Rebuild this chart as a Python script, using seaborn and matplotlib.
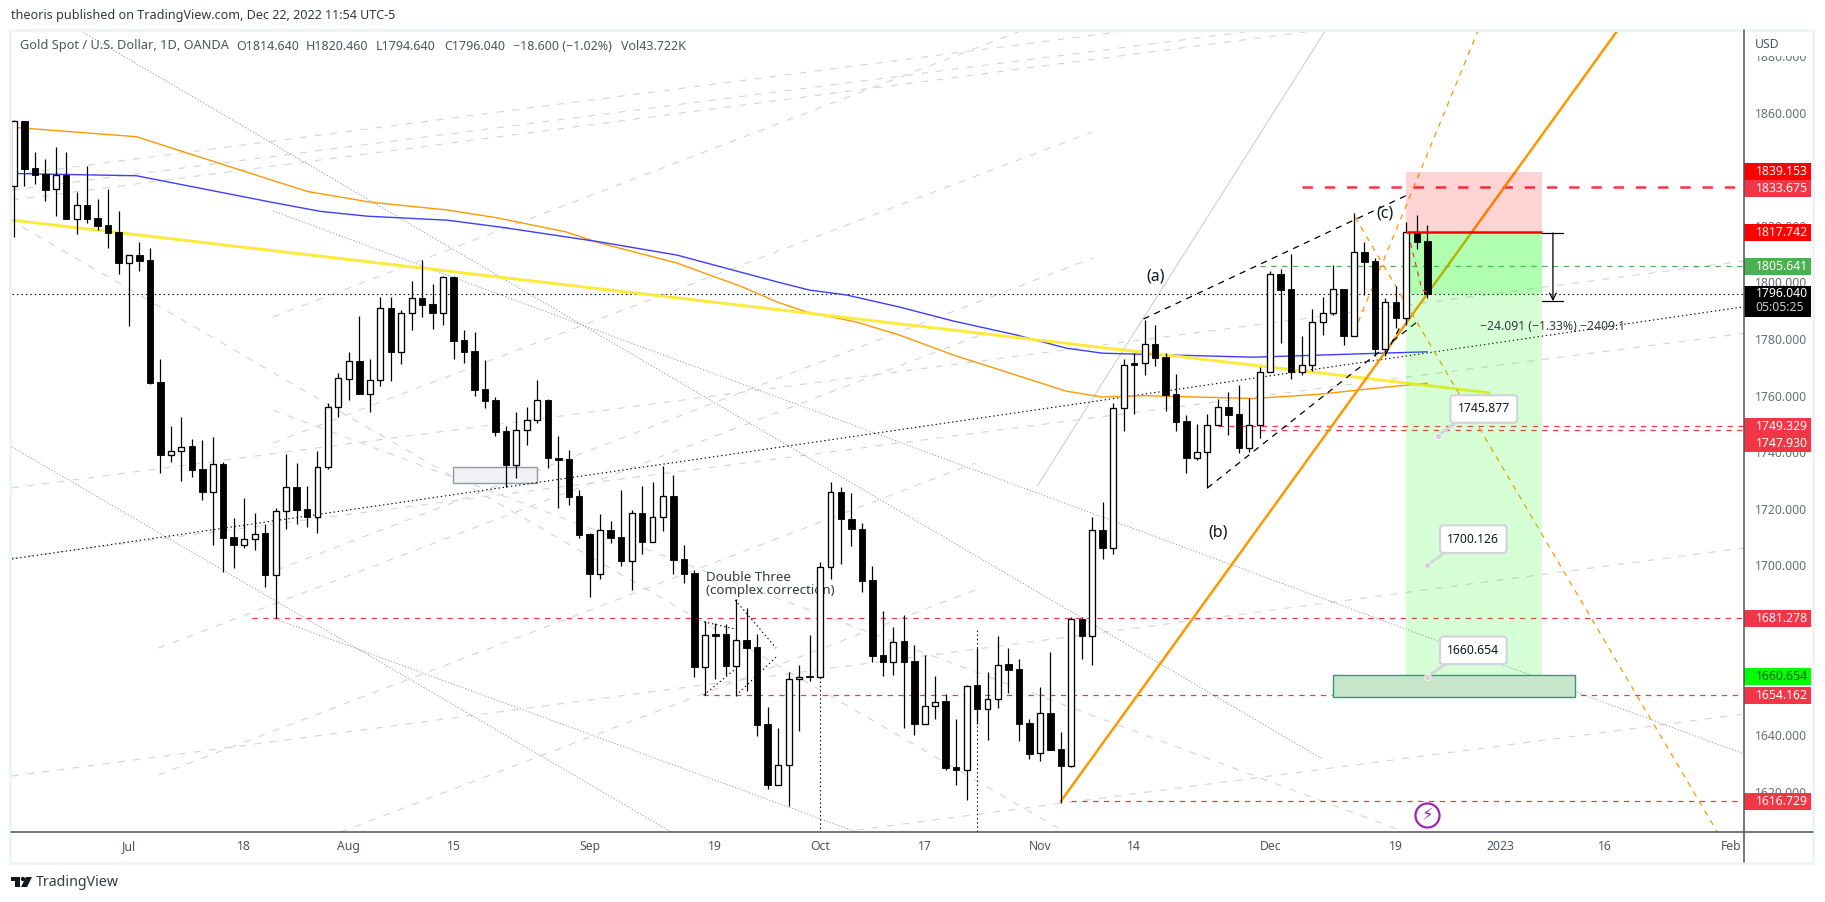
#!/usr/bin/env python3

import matplotlib
matplotlib.use('Agg')
import matplotlib.pyplot as plt
from matplotlib.patches import Rectangle, Circle, Polygon
from matplotlib.transforms import blended_transform_factory
import numpy as np
import pandas as pd
import seaborn as sns

# daily candles
opens = [1834.1, 1857.0, 1840.3, 1838.3, 1832.9, 1837.8, 1822.5, 1827.2, 1822.7, 1820.3,
         1817.7, 1807.0, 1809.6, 1807.9, 1764.7, 1739.2, 1740.3, 1742.2, 1734.1, 1726.1,
         1735.9, 1710.0, 1707.4, 1709.2, 1711.4, 1696.8, 1719.1, 1727.6, 1719.8, 1717.2,
         1734.7, 1755.9, 1766.0, 1772.1, 1760.7, 1765.4, 1790.8, 1775.5, 1789.1, 1794.4,
         1792.4, 1789.3, 1802.0, 1779.7, 1775.8, 1762.3, 1758.5, 1747.5, 1735.6, 1747.7,
         1751.3, 1758.5, 1737.9, 1737.6, 1724.6, 1711.1, 1697.1, 1712.5, 1710.0, 1701.7,
         1718.4, 1708.4, 1717.0, 1724.4, 1702.2, 1697.2, 1664.3, 1675.8, 1675.8, 1664.6,
         1673.6, 1671.1, 1643.9, 1622.5, 1629.4, 1659.8, 1660.9, 1660.7, 1699.6, 1726.1,
         1716.3, 1712.9, 1694.9, 1668.3, 1666.0, 1673.2, 1666.1, 1644.1, 1650.5, 1652.0,
         1628.7, 1627.8, 1657.6, 1649.4, 1652.7, 1665.2, 1663.3, 1644.2, 1633.6, 1647.8,
         1635.0, 1629.3, 1681.0, 1675.2, 1712.4, 1706.3, 1755.5, 1771.5, 1771.4, 1778.1,
         1773.5, 1760.5, 1751.0, 1738.1, 1740.0, 1749.5, 1755.9, 1753.4, 1741.6, 1749.5,
         1768.2, 1802.9, 1797.6, 1768.5, 1771.0, 1785.9, 1789.1, 1797.6, 1781.2, 1810.6,
         1807.6, 1776.5, 1793.0, 1787.6, 1817.7, 1814.64]
highs = [1857.5, 1857.2, 1846.0, 1843.5, 1847.9, 1846.0, 1831.8, 1841.1, 1829.4, 1833.0,
         1825.2, 1809.8, 1814.2, 1812.2, 1772.8, 1749.3, 1752.5, 1744.6, 1744.4, 1745.4,
         1736.5, 1716.7, 1723.7, 1718.4, 1714.7, 1720.2, 1739.3, 1736.1, 1728.1, 1740.5,
         1757.3, 1767.9, 1775.4, 1788.1, 1772.8, 1794.7, 1794.7, 1790.3, 1800.5, 1807.9,
         1799.3, 1802.3, 1802.3, 1783.2, 1782.5, 1772.6, 1759.4, 1749.3, 1754.2, 1755.9,
         1765.5, 1758.8, 1745.8, 1740.8, 1726.7, 1711.4, 1718.2, 1715.7, 1726.6, 1719.5,
         1728.1, 1729.4, 1735.2, 1732.0, 1707.2, 1698.4, 1680.4, 1679.8, 1679.2, 1688.1,
         1684.9, 1675.7, 1649.9, 1642.5, 1662.5, 1664.7, 1675.3, 1701.4, 1729.4, 1727.6,
         1725.5, 1714.9, 1699.8, 1683.9, 1678.2, 1682.5, 1671.8, 1668.4, 1661.0, 1654.6,
         1645.8, 1657.6, 1670.7, 1662.5, 1675.1, 1670.7, 1666.8, 1645.6, 1657.0, 1669.4,
         1641.0, 1681.7, 1681.7, 1717.0, 1722.4, 1757.3, 1772.8, 1775.0, 1786.7, 1785.0,
         1775.0, 1767.5, 1753.2, 1750.0, 1753.4, 1758.7, 1761.2, 1763.8, 1759.0, 1770.2,
         1804.0, 1804.8, 1810.0, 1781.1, 1790.5, 1794.9, 1806.2, 1797.6, 1824.4, 1814.2,
         1808.5, 1794.4, 1798.7, 1821.5, 1823.8, 1820.46]
lows = [1815.9, 1834.2, 1834.8, 1828.8, 1823.5, 1822.3, 1817.2, 1821.1, 1818.5, 1812.3,
        1803.1, 1784.7, 1804.2, 1764.1, 1732.5, 1736.6, 1730.0, 1731.4, 1723.1, 1707.4,
        1697.8, 1699.2, 1706.3, 1705.5, 1692.4, 1681.3, 1713.0, 1714.7, 1713.7, 1711.6,
        1734.2, 1752.6, 1758.5, 1760.7, 1754.3, 1763.5, 1765.3, 1771.2, 1783.2, 1787.9,
        1783.5, 1785.0, 1773.1, 1771.6, 1759.9, 1755.6, 1745.9, 1727.6, 1731.0, 1742.6,
        1750.2, 1734.5, 1720.4, 1721.4, 1709.8, 1689.0, 1695.2, 1708.1, 1699.8, 1691.3,
        1704.1, 1708.4, 1712.3, 1697.0, 1693.9, 1660.7, 1654.2, 1659.9, 1661.3, 1653.9,
        1655.7, 1639.8, 1621.0, 1622.5, 1615.0, 1641.5, 1659.3, 1660.7, 1695.2, 1700.5,
        1706.9, 1690.8, 1666.0, 1661.1, 1661.3, 1642.7, 1640.1, 1644.1, 1645.6, 1627.7,
        1622.4, 1617.1, 1644.0, 1638.3, 1649.8, 1654.8, 1638.0, 1631.6, 1630.9, 1634.8,
        1616.0, 1628.9, 1667.0, 1664.8, 1702.4, 1704.1, 1747.5, 1753.5, 1767.3, 1770.5,
        1754.7, 1747.6, 1732.8, 1737.3, 1727.2, 1749.5, 1746.1, 1739.8, 1740.2, 1745.2,
        1768.2, 1778.7, 1765.9, 1767.4, 1768.8, 1781.4, 1788.5, 1777.9, 1781.2, 1795.6,
        1774.0, 1774.0, 1783.8, 1785.0, 1811.8, 1794.64]
closes = [1857.0, 1840.1, 1838.1, 1832.7, 1837.8, 1822.5, 1827.2, 1822.5, 1819.9, 1817.6,
          1807.0, 1809.6, 1807.7, 1764.6, 1739.2, 1740.3, 1742.0, 1733.9, 1726.1, 1735.8,
          1709.8, 1707.2, 1709.2, 1711.2, 1696.8, 1719.1, 1727.6, 1719.7, 1717.1, 1734.7,
          1755.9, 1766.1, 1772.1, 1760.7, 1765.4, 1790.8, 1775.5, 1789.1, 1794.4, 1792.1,
          1789.3, 1801.8, 1779.4, 1775.5, 1762.0, 1758.2, 1747.3, 1735.6, 1747.7, 1751.3,
          1758.3, 1737.8, 1737.3, 1724.3, 1710.8, 1697.0, 1712.4, 1709.8, 1701.7, 1718.4,
          1708.4, 1717.0, 1724.4, 1702.0, 1697.0, 1664.3, 1675.3, 1675.2, 1664.6, 1673.6,
          1670.9, 1643.6, 1622.4, 1629.4, 1659.8, 1660.7, 1660.6, 1699.6, 1726.1, 1716.3,
          1712.8, 1694.6, 1668.0, 1666.0, 1673.1, 1666.0, 1644.0, 1650.5, 1651.9, 1628.4,
          1627.8, 1657.5, 1649.4, 1652.7, 1665.0, 1663.1, 1644.0, 1633.4, 1647.8, 1634.8,
          1629.3, 1681.0, 1675.2, 1712.4, 1706.3, 1755.5, 1771.0, 1771.0, 1778.1, 1773.4,
          1760.2, 1750.8, 1738.1, 1740.0, 1749.5, 1755.9, 1753.3, 1741.6, 1749.5, 1768.2,
          1802.9, 1797.4, 1768.5, 1771.0, 1785.9, 1789.1, 1797.6, 1781.2, 1810.6, 1807.3,
          1776.5, 1793.0, 1787.6, 1817.7, 1814.4, 1796.04]

# moving averages
ma_orange_x = [0, 11.7, 25.1, 28.1, 34, 41.4, 45.9, 52.7, 56, 63.3, 69.6, 72.9, 75.7, 80.5,
               84.6, 89.7, 95.1, 100.5, 104, 108, 118.4, 124.7, 131, 135]
ma_orange_y = [1854.8, 1851.5, 1835.6, 1832.1, 1828.4, 1825.6, 1823.0, 1817.9, 1813.9, 1806.9,
               1798.4, 1793.1, 1789.6, 1786.0, 1781.4, 1774.4, 1768.0, 1761.6, 1759.5, 1760.0,
               1759.0, 1760.5, 1763.0, 1764.4]
ma_blue_x = [0, 11.7, 24.4, 29.3, 33.8, 41.4, 46.6, 56, 63.3, 72.9, 76, 79.5, 84.6, 89.7,
             95.8, 100.5, 104, 118.4, 127.9, 135]
ma_blue_y = [1838.5, 1837.7, 1828.5, 1825.1, 1823.4, 1822.0, 1819.5, 1814.3, 1809.7, 1800.2,
             1797.3, 1795.6, 1791.3, 1786.4, 1781.4, 1776.8, 1775.0, 1773.6, 1774.7, 1775.5]

# hand drawn lines as (bar, price, bar, price)
light_dashed = [(-0.18, 1838.0, 106.9, 1889.2), (-0.18, 1832.7, 118.4, 1888.9),
                (-0.18, 1829.1, 124.1, 1888.9), (24.75, 1787.8, 96.4, 1889.2),
                (24.75, 1743.3, 103, 1853.2), (13.8, 1670.8, 92.3, 1781.4),
                (25.1, 1698.4, 103.1, 1808.7), (13.8, 1626.0, 91.8, 1736.2),
                (31.2, 1605.8, 91.8, 1691.3), (-0.18, 1727.4, 165.25, 1807.6),
                (-0.18, 1625.6, 165.25, 1706.2), (-0.18, 1702.6, 165.25, 1782.0),
                (80.5, 1606.5, 165.25, 1647.5), (0.8, 1819.6, 100.4, 1605.8),
                (24.75, 1754.9, 132.9, 1605.8)]
grey_dotted = [(6.22, 1889.2, 125.0, 1631.6), (24.75, 1825.3, 165.25, 1633.4),
               (-0.18, 1741.9, 62.8, 1605.8), (24.75, 1681.4, 80.5, 1605.8)]
grey_solid = [(97.8, 1728.4, 125.3, 1889.2)]
black_dotted = [(-0.18, 1702.3, 165.25, 1791.4),
                (65.9, 1680.1, 68.8, 1677.6), (68.9, 1687.8, 72.8, 1670.8),
                (72.8, 1667.6, 69.0, 1654.2), (65.9, 1654.2, 68.8, 1663.1),
                (77, 1660.7, 77, 1605.8), (92, 1677.2, 92, 1605.8)]
black_dashed = [(107.9, 1787.1, 133.1, 1830.9), (114, 1727.4, 134, 1786.0),
                (131, 1774.4, 132.5, 1785.0)]
orange_dashed = [(128.4, 1786.0, 139.8, 1888.5), (128.1, 1823.1, 162.7, 1605.8)]
orange_thick = (100, 1616.7, 153.2, 1889.2)
yellow_line = (-0.18, 1822.0, 141, 1761.0)
red_zigzag_x = [133.4, 134.5, 135.2]
red_zigzag_y = [1813.9, 1797.3, 1796.3]

# horizontal levels: price, first bar, colour
level_prices = [1833.675, 1805.641, 1749.329, 1747.93, 1681.278, 1654.162, 1616.729]
level_starts = [123.0, 119.0, 115.0, 119.0, 22.7, 65.8, 101.0]
level_colors = ['#f23645', '#4caf50', '#f23645', '#f23645', '#f23645', '#f23645', '#f23645']

# right hand price tags; the two close ones get stacked by the platform
tag_prices = [1839.153, 1833.675, 1817.742, 1805.641, 1749.329, 1747.93, 1681.278,
              1660.654, 1654.162, 1616.729]
tag_centers = [1839.1, 1833.1, 1817.742, 1805.641, 1749.0, 1743.2, 1681.278,
               1660.654, 1654.162, 1616.729]
tag_colors = ['#ff0000', '#f23645', '#ff0000', '#4caf50', '#f23645', '#f23645', '#f23645',
              '#00ff00', '#f23645', '#f23645']
tag_text_colors = ['white', 'white', 'white', 'white', 'white', 'white', 'white',
                   '#1e5a1e', 'white', 'white']

y_ticks = [1620, 1640, 1660, 1680, 1700, 1720, 1740, 1760, 1780, 1800, 1820, 1840, 1860, 1880]
y_tick_hide = [1660, 1680, 1840]
x_ticks = [11, 22, 32, 42, 55, 67, 77, 87, 98, 107, 120, 132, 142, 152, 164]
x_labels = ['Jul', '18', 'Aug', '15', 'Sep', '19', 'Oct', '17', 'Nov', '14', 'Dec', '19',
            '2023', '16', 'Feb']

callout_prices = [1745.877, 1700.126, 1660.654]

FONT = 'Noto Sans'
GREY_LINE = '#d1d4dc'
TEXT_GREY = '#6a6d78'
AXIS_DARK = '#50535e'


def draw_segments(ax, segments, **kwargs):
    for x0, y0, x1, y1 in segments:
        ax.plot([x0, x1], [y0, y1], **kwargs)


def draw_candles(ax, df):
    ax.vlines(df['bar'], df['low'], df['high'], color='black', lw=0.9, zorder=6)
    up = df[df['close'] >= df['open']]
    down = df[df['close'] < df['open']]
    ax.bar(up['bar'], up['close'] - up['open'], bottom=up['open'], width=0.56,
           facecolor='white', edgecolor='black', linewidth=0.95, zorder=7)
    ax.bar(down['bar'], down['open'] - down['close'], bottom=down['close'], width=0.62,
           facecolor='black', edgecolor='black', linewidth=0.6, zorder=7)


def draw_position(ax):
    # risk/reward box, translucent so lines below show through
    ax.add_patch(Rectangle((133, 1817.742), 13, 1839.153 - 1817.742, facecolor='#ff0000',
                           alpha=0.17, edgecolor='none', zorder=4))
    ax.add_patch(Rectangle((133, 1660.654), 13, 1817.742 - 1660.654, facecolor='#00ff00',
                           alpha=0.16, edgecolor='none', zorder=4))
    ax.add_patch(Rectangle((133, 1796.04), 13, 1817.742 - 1796.04, facecolor='#00ff00',
                           alpha=0.17, edgecolor='none', zorder=4))
    ax.plot([133, 146], [1817.742, 1817.742], color='#ff0000', lw=1.8, zorder=8,
            solid_capstyle='butt')


def draw_price_tags(ax):
    trans = blended_transform_factory(ax.transAxes, ax.transData)
    for price, center, col, tcol in zip(tag_prices, tag_centers, tag_colors, tag_text_colors):
        ax.add_patch(Rectangle((1.0, center - 3.0), 0.0387, 6.0, transform=trans, facecolor=col,
                               edgecolor='none', clip_on=False, zorder=20))
        ax.text(1.0068, center, f'{price:.3f}', transform=trans, color=tcol, fontsize=8.8,
                va='center', ha='left', clip_on=False, zorder=21)
    ax.add_patch(Rectangle((1.0, 1787.9), 0.0387, 10.9, transform=trans, facecolor='black',
                           edgecolor='none', clip_on=False, zorder=20))
    ax.text(1.0068, 1796.04, '1796.040', transform=trans, color='white', fontsize=8.8,
            va='center', clip_on=False, zorder=21)
    ax.text(1.0068, 1791.1, '05:05:25', transform=trans, color='#c8c8c8', fontsize=8.8,
            va='center', clip_on=False, zorder=21)


def draw_callouts(ax):
    tips = [136, 135, 135]
    boxes = [(140.4, 1755.3), (139.4, 1709.3), (139.4, 1670.0)]
    for price, tip, (bx, by) in zip(callout_prices, tips, boxes):
        ax.annotate('', xy=(tip, price), xytext=(tip + 2.0, price + 5.2),
                    arrowprops=dict(arrowstyle='-', color=GREY_LINE, lw=2.2), zorder=14)
        ax.plot([tip], [price], 'o', ms=4.5, color=GREY_LINE, mec='white', mew=0.5, zorder=15)
        ax.text(bx, by, f'{price:.3f}', fontsize=8.8, color='#131722', ha='center', va='center',
                zorder=16, bbox=dict(boxstyle='round,pad=0.6,rounding_size=0.3',
                                     facecolor='white', edgecolor=GREY_LINE, lw=1.6))


def draw_frame(fig):
    over = fig.add_axes([0, 0, 1, 1], zorder=30)
    over.set_xlim(0, 1825)
    over.set_ylim(902, 0)
    over.axis('off')
    over.patch.set_alpha(0)
    over.add_patch(Rectangle((10, 30), 1803, 833, fill=False, edgecolor='#f0f3fa', lw=2.2))
    over.plot([11, 1813], [832, 832], color=AXIS_DARK, lw=1.1)
    over.plot([1744, 1744], [30, 862], color=AXIS_DARK, lw=1.1)
    # hides the upper half of the top tick label
    over.add_patch(Rectangle((1746, 32), 64, 24, facecolor='white', edgecolor='none'))
    over.text(1755, 44, 'USD', color=AXIS_DARK, fontsize=8.8, family=FONT, va='center')

    over.text(11, 16, 'theoris published on TradingView.com, Dec 22, 2022 11:54 UTC-5',
              color='#333640', fontsize=9.05, family=FONT, va='center')
    legend_y = 46
    over.text(20, legend_y, 'Gold Spot / U.S. Dollar, 1D, OANDA', color='#50535e', fontsize=9.2,
              family=FONT, va='center')
    parts = [(236, 'O1814.640'), (306, 'H1820.460'), (376, 'L1794.640'), (444, 'C1796.040'),
             (513, '\u221218.600 (\u22121.02%)'), (621, 'Vol43.722K')]
    for px, txt in parts:
        over.text(px, legend_y, txt, color='#50535e', fontsize=9, family=FONT, va='center')

    # logo
    over.add_patch(Rectangle((11, 877), 9, 4, facecolor='#131722', edgecolor='none'))
    over.add_patch(Rectangle((15, 877), 5, 10, facecolor='#131722', edgecolor='none'))
    over.add_patch(Circle((23, 879), 2.2, facecolor='#131722', edgecolor='none'))
    over.add_patch(Polygon([[26, 877], [32, 877], [27, 887], [21, 887]], facecolor='#131722',
                           edgecolor='none'))
    over.text(36, 883, 'TradingView', color='#363a45', fontsize=10.2, family=FONT, va='center')


def main():
    sns.set_theme(style='white')
    plt.rcParams['font.family'] = [FONT, 'DejaVu Sans']
    plt.rcParams['lines.scale_dashes'] = False

    candles = pd.DataFrame({'bar': np.arange(len(closes)), 'open': opens, 'high': highs,
                            'low': lows, 'close': closes})

    fig = plt.figure(figsize=(18.25, 9.02), dpi=100, facecolor='white')
    ax = fig.add_axes([12 / 1825, 1 - 832 / 902, (1744 - 12) / 1825, (832 - 30) / 902])
    ax.set_xlim(-0.177, 165.25)
    ax.set_ylim(1605.83, 1889.2)
    sns.despine(ax=ax, left=True, bottom=True, top=True, right=True)

    draw_segments(ax, light_dashed, color=GREY_LINE, lw=0.8, ls=(0, (5, 6)), zorder=2)
    draw_segments(ax, grey_solid, color=GREY_LINE, lw=0.9, zorder=2)
    draw_segments(ax, grey_dotted, color='#9a9da6', lw=0.7, ls=(0, (0.9, 1.3)), zorder=2)
    draw_segments(ax, black_dotted, color='black', lw=0.8, ls=(0, (1, 2)), zorder=3)
    ax.plot([-0.177, 165.25], [1796.04, 1796.04], color='black', lw=0.8, ls=(0, (1, 2.2)), zorder=3)

    for price, start, col in zip(level_prices, level_starts, level_colors):
        thick = price == 1833.675
        ax.plot([start, 165.25], [price, price], color=col, lw=1.8 if thick else 0.9,
                ls=(0, (7.5, 8.5)) if thick else (0, (3.8, 4)), zorder=3)

    sns.lineplot(x=ma_orange_x, y=ma_orange_y, ax=ax, color='#ff9800', lw=1.0, estimator=None,
                 errorbar=None, zorder=3)
    sns.lineplot(x=ma_blue_x, y=ma_blue_y, ax=ax, color='#3d3dff', lw=1.0, estimator=None,
                 errorbar=None, zorder=3)
    ax.plot(yellow_line[0::2], yellow_line[1::2], color='#fdea3a', lw=2.1, zorder=3,
            solid_capstyle='butt')
    ax.plot(orange_thick[0::2], orange_thick[1::2], color='#ff9800', lw=1.8, zorder=3)
    draw_segments(ax, orange_dashed, color='#ff9800', lw=0.9, ls=(0, (4, 4)), zorder=3)
    draw_segments(ax, black_dashed, color='black', lw=0.9, ls=(0, (4.5, 4)), zorder=3)
    ax.plot(red_zigzag_x, red_zigzag_y, color='#f23645', lw=0.9, ls=(0, (3.5, 3.5)), zorder=8)

    # support boxes
    ax.add_patch(Rectangle((41.9, 1729.1), 8.07, 5.7, facecolor='#f0f1f4', edgecolor='#9598a1',
                           lw=1.0, zorder=2))
    ax.add_patch(Rectangle((126, 1653.5), 23.1, 7.8, facecolor='#c8e6c9', edgecolor='#26a17a',
                           lw=1.0, zorder=5))

    draw_position(ax)

    ax.text(66.1, 1693.6, 'Double Three\n(complex correction)', fontsize=9.6, color='#363a45',
            va='center', ha='left', linespacing=1.0, zorder=5)
    draw_candles(ax, candles)

    ax.text(109.1, 1802, '(a)', fontsize=11.5, color='#131722', ha='center', va='center', zorder=9)
    ax.text(115, 1711.5, '(b)', fontsize=11.5, color='#131722', ha='center', va='center', zorder=9)
    ax.text(131, 1824.2, '(c)', fontsize=11.5, color='#131722', ha='center', va='center', zorder=9)

    # measure tool
    ax.plot([146, 148], [1817.5, 1817.5], color='black', lw=0.9, zorder=9)
    ax.plot([146, 148], [1793.4, 1793.4], color='black', lw=0.9, zorder=9)
    ax.annotate('', xy=(147, 1793.4), xytext=(147, 1817.5), zorder=9,
                arrowprops=dict(arrowstyle='->', color='black', lw=0.9, shrinkA=0, shrinkB=0))
    ax.text(147, 1784.6, '\u221224.091 (\u22121.33%) \u22122409.1', fontsize=8.8, color='#363a45',
            ha='center', va='center', zorder=9)

    draw_callouts(ax)

    ax.scatter([135], [1611.8], s=300, facecolor='white', edgecolor='#9c27b0', linewidth=1.6,
               zorder=12)
    ax.text(135, 1611.8, '\u26a1', fontsize=12, color='#9c27b0', ha='center', va='center',
            family='DejaVu Sans', zorder=13)

    ax.yaxis.tick_right()
    ax.set_yticks(y_ticks)
    ax.set_yticklabels([f'{v}.000' for v in y_ticks])
    for lab, v in zip(ax.get_yticklabels(), y_ticks):
        lab.set_visible(v not in y_tick_hide)
    ax.set_xticks(x_ticks)
    ax.set_xticklabels(x_labels)
    ax.tick_params(axis='y', length=0, pad=8.2, labelsize=8.8, labelcolor=TEXT_GREY)
    ax.tick_params(axis='x', length=0, pad=6.0, labelsize=8.8, labelcolor=AXIS_DARK)
    ax.set_xlabel('')
    ax.set_ylabel('')

    draw_price_tags(ax)
    draw_frame(fig)

    fig.savefig('out.png', dpi=100, facecolor='white')
    plt.close(fig)


if __name__ == "__main__":
    main()
